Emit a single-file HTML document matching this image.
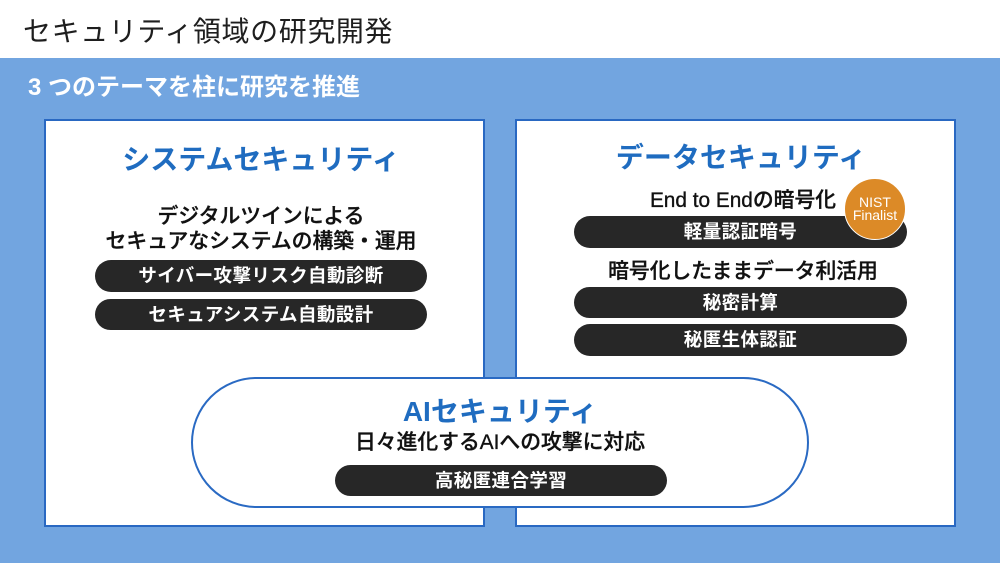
<!DOCTYPE html>
<html><head><meta charset="utf-8"><style>
*{margin:0;padding:0;box-sizing:border-box}
html,body{width:1000px;height:563px;overflow:hidden;background:#fff}
body{position:relative;font-family:"Liberation Sans","Noto Sans CJK JP",sans-serif}
.a{position:absolute}
.t{position:absolute;text-align:center;white-space:nowrap}
.bg{left:0;top:58px;width:1000px;height:505px;background:#72a5e0}
.box{background:#fff;border:2px solid #2968c2}
.pill{background:#272727;border-radius:20px;color:#fff;font-weight:700;text-align:center;white-space:nowrap;font-size:18.5px;letter-spacing:0.4px}
.title{color:#1f6cc0;font-weight:700;font-size:28px;height:40px;line-height:40px}
.sub{color:#111;font-weight:500;font-size:20.8px;height:26px;line-height:26px;-webkit-text-stroke:0.35px #111}
</style></head><body>
<div class="t" style="left:23px;top:12px;height:40px;line-height:40px;font-size:28px;color:#1e1e1e;letter-spacing:0.6px;text-align:left">セキュリティ領域の研究開発</div>
<div class="a bg"></div>
<div class="t" style="left:28px;top:72px;height:32px;line-height:32px;font-size:24px;color:#fff;font-weight:700;text-align:left">3 つのテーマを柱に研究を推進</div>

<div class="a box" style="left:44px;top:119px;width:441px;height:408px"></div>
<div class="a box" style="left:515px;top:119px;width:441px;height:408px"></div>

<!-- left content -->
<div class="t title" style="left:61px;width:400px;top:140px">システムセキュリティ</div>
<div class="t sub" style="left:61px;width:400px;top:204px">デジタルツインによる</div>
<div class="t sub" style="left:61px;width:400px;top:229px">セキュアなシステムの構築・運用</div>
<div class="a pill" style="left:95px;top:260px;width:332px;height:32px;line-height:32px">サイバー攻撃リスク自動診断</div>
<div class="a pill" style="left:95px;top:299px;width:332px;height:31px;line-height:31px">セキュアシステム自動設計</div>

<!-- right content -->
<div class="t title" style="left:541px;width:400px;top:138px">データセキュリティ</div>
<div class="t sub" style="left:543px;width:400px;top:188px">End to Endの暗号化</div>
<div class="a pill" style="left:574px;top:216px;width:333px;height:32px;line-height:32px">軽量認証暗号</div>
<div class="a" style="left:844px;top:178px;width:62px;height:62px;border-radius:50%;background:#dc8a27;border:1px solid #fff"></div>
<div class="t" style="left:835px;top:196px;width:80px;height:13px;line-height:13px;font-size:14px;color:#fff">NIST</div>
<div class="t" style="left:835px;top:208.5px;width:80px;height:13px;line-height:13px;font-size:14px;color:#fff">Finalist</div>
<div class="t sub" style="left:543px;width:400px;top:259px">暗号化したままデータ利活用</div>
<div class="a pill" style="left:574px;top:287px;width:333px;height:31px;line-height:31px">秘密計算</div>
<div class="a pill" style="left:574px;top:324px;width:333px;height:32px;line-height:32px">秘匿生体認証</div>

<!-- AI pill -->
<div class="a" style="left:191px;top:377px;width:618px;height:131px;border-radius:66px;background:#fff;border:2px solid #2a6ac3"></div>
<div class="t title" style="left:300px;width:400px;top:392px">AIセキュリティ</div>
<div class="t sub" style="left:300px;width:400px;top:430px">日々進化するAIへの攻撃に対応</div>
<div class="a pill" style="left:335px;top:465px;width:332px;height:31px;line-height:31px">高秘匿連合学習</div>
</body></html>
